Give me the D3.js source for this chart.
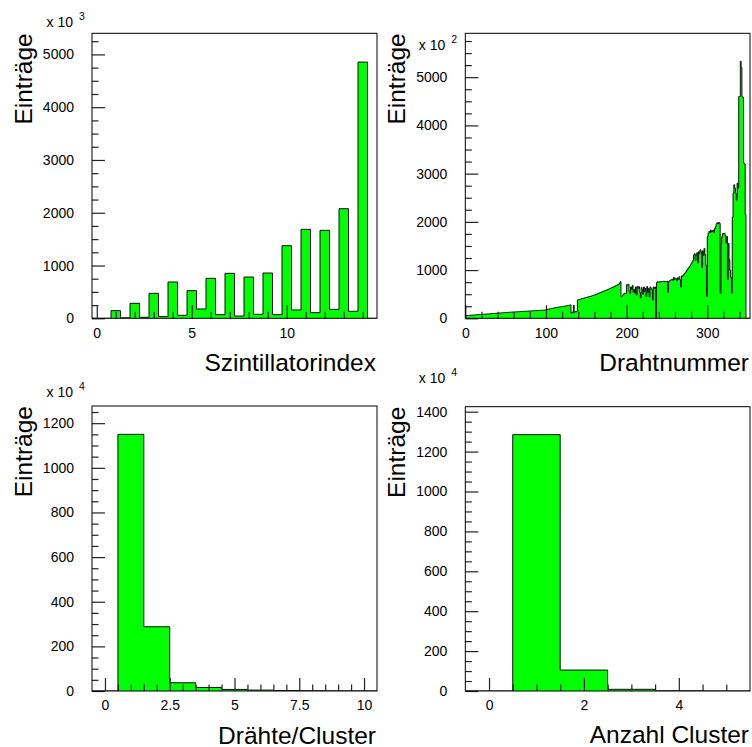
<!DOCTYPE html>
<html>
<head>
<meta charset="utf-8">
<script src="https://cdn.jsdelivr.net/npm/d3@7"></script>
<style>
  body { margin: 0; background: #fff; }
  svg { font-family: "Liberation Sans", Arial, Helvetica, sans-serif; }
</style>
</head>
<body>
<svg id="chart" width="752" height="747"></svg>
<script>
// --- data (bin contents) ---

// Szintillatorindex, bins of 0.5 from -0.25 to 14.75, units of 10^3
// bin order is 0, 0.5, 1, 1.5 ... so the tall bars sit on whole numbers
var szintRange = [-0.25, 14.75];
var szintValues = [0, 0, 145, 10, 284, 19, 473, 32, 688, 57, 524, 177, 757, 69, 852, 44,
                   782, 76, 858, 69, 1376, 158, 1685, 107, 1667, 170, 2077, 133, 4855, 0];
var szintXTicks = [0, 5, 10];
var szintYTicks = [0, 1000, 2000, 3000, 4000, 5000];

// Drahtnummer, bins of 1 from 0 to 353, units of 10^2
var drahtRange = [0, 353];
var drahtValues = [
  55, 56, 58, 59, 60, 62, 63, 64, 65, 67,
  68, 69, 70, 72, 73, 74, 76, 77, 78, 80,
  81, 82, 83, 85, 86, 87, 89, 90, 91, 92,
  94, 95, 96, 98, 99, 100, 102, 103, 104, 105,
  107, 108, 109, 111, 112, 113, 115, 116, 117, 118,
  120, 121, 122, 124, 125, 126, 127, 128, 129, 130,
  131, 132, 133, 134, 135, 136, 138, 139, 140, 141,
  142, 143, 144, 145, 146, 147, 148, 149, 150, 151,
  152, 153, 154, 155, 156, 157, 158, 159, 160, 161,
  162, 163, 164, 165, 166, 167, 168, 169, 170, 172,
  175, 180, 186, 190, 194, 198, 200, 204, 208, 212,
  216, 218, 222, 226, 229, 232, 234, 236, 239, 242,
  245, 248, 250, 253, 256, 260, 263, 266, 270, 272,
  277, 105, 130, 115, 270, 125, 140, 135, 140, 380,
  385, 390, 395, 400, 405, 410, 415, 420, 425, 430,
  435, 440, 445, 449, 452, 456, 462, 468, 474, 480,
  484, 490, 497, 503, 510, 518, 525, 532, 540, 548,
  553, 560, 568, 575, 582, 588, 595, 602, 610, 618,
  625, 632, 640, 648, 655, 663, 672, 680, 690, 700,
  710, 730, 760, 450, 460, 480, 500, 520, 515, 519,
  700, 690, 705, 560, 520, 650, 600, 680, 540, 600,
  520, 650, 480, 660, 620, 655, 540, 420, 640, 600,
  500, 650, 560, 620, 450, 660, 540, 620, 440, 650,
  620, 600, 380, 650, 620, 650, 10, 740, 760, 750,
  750, 760, 755, 760, 765, 760, 770, 755, 765, 760,
  770, 540, 760, 780, 790, 800, 810, 790, 850, 800,
  830, 820, 780, 840, 810, 860, 800, 650, 880, 870,
  900, 920, 940, 960, 990, 1010, 1040, 1060, 1080, 1110,
  1140, 1170, 1200, 1310, 1340, 1200, 1320, 1360, 1150, 1380,
  1340, 1420, 1380, 1050, 1400, 1300, 1450, 1320, 1100, 450,
  1700, 1760, 1800, 1780, 1830, 1790, 1810, 1830, 1780, 1860,
  1900, 1960, 1980, 1960, 1990, 1970, 520, 1550, 1700, 1760,
  1750, 1760, 1720, 1560, 1700, 800, 1550, 1210, 1000, 850,
  520, 2100, 2600, 2770, 2700, 2590, 2450, 2800, 2700, 4600,
  4600, 5330, 5200, 4600, 4580, 3220, 3200, 2150, 0, 0,
  0, 0, 0];
var drahtXTicks = [0, 100, 200, 300];
var drahtYTicks = [0, 1000, 2000, 3000, 4000, 5000];

// Drähte/Cluster, bins of 1 from -0.5 to 10.5, units of 10^4
var clSizeRange = [-0.5, 10.5];
var clSizeValues = [0, 1150, 288, 37, 16, 7, 4, 2, 1, 0.5, 0.3];
var clSizeXTicks = [0, 2.5, 5, 7.5, 10];
var clSizeYTicks = [0, 200, 400, 600, 800, 1000, 1200];

// Anzahl Cluster, bins of 1 from -0.5 to 5.5, units of 10^4
var clCountRange = [-0.5, 5.5];
var clCountValues = [0, 1285, 105, 8.5, 1, 0.3];
var clCountXTicks = [0, 2, 4];
var clCountYTicks = [0, 200, 400, 600, 800, 1000, 1200, 1400];

var yTitle = "Einträge";

// --- panels (layout + which arrays to use) ---
var panels = [
  { left: 92, top: 33.3, width: 285, height: 285,
    xDomain: szintRange, yMax: 5400, values: szintValues,
    xTicks: szintXTicks, xMinor: 1, yTicks: szintYTicks, yMinor: 250,
    xTitle: "Szintillatorindex", exponent: "3", expDx: -45.5, expDy: -6.6 },
  { left: 465.3, top: 33.3, width: 284.7, height: 285,
    xDomain: drahtRange, yMax: 5910, values: drahtValues,
    xTicks: drahtXTicks, xMinor: 20, yTicks: drahtYTicks, yMinor: 250,
    xTitle: "Drahtnummer", exponent: "2", expDx: -46.5, expDy: 16.7 },
  { left: 92, top: 406, width: 285, height: 285,
    xDomain: clSizeRange, yMax: 1277, values: clSizeValues,
    xTicks: clSizeXTicks, xMinor: 0.5, yTicks: clSizeYTicks, yMinor: 50,
    xTitle: "Drähte/Cluster", exponent: "4", expDx: -45.5, expDy: -9.3 },
  { left: 465.3, top: 406.7, width: 284.7, height: 284.3,
    xDomain: clCountRange, yMax: 1425, values: clCountValues,
    xTicks: clCountXTicks, xMinor: 0.5, yTicks: clCountYTicks, yMinor: 50,
    xTitle: "Anzahl Cluster", exponent: "4", expDx: -46.5, expDy: -24 }
];

var svg = d3.select("#chart");

panels.forEach(function (p, idx) { drawPanel(svg, p, idx); });

function drawPanel(svg, p, idx) {
  var g = svg.append("g")
    .attr("transform", "translate(" + p.left + "," + p.top + ")");

  var x = d3.scaleLinear().domain(p.xDomain).range([0, p.width]);
  var y = d3.scaleLinear().domain([0, p.yMax]).range([p.height, 0]);

  // step contour of the histogram
  var n = p.values.length;
  var bw = (p.xDomain[1] - p.xDomain[0]) / n;
  var pts = [[p.xDomain[0], 0]];
  p.values.forEach(function (v, i) {
    var lo = p.xDomain[0] + i * bw;
    pts.push([lo, v]);
    pts.push([lo + bw, v]);
  });
  pts.push([p.xDomain[1], 0]);

  g.append("clipPath").attr("id", "clip" + idx)
    .append("rect").attr("width", p.width).attr("height", p.height);

  g.append("path")
    .datum(pts)
    .attr("clip-path", "url(#clip" + idx + ")")
    .attr("d", d3.line().x(function (d) { return x(d[0]); }).y(function (d) { return y(d[1]); }))
    .style("fill", "#00ff00")
    .style("stroke", "#111")
    .style("stroke-width", 1);

  // minor ticks (inside the frame)
  var xMin = d3.range(Math.ceil(p.xDomain[0] / p.xMinor) * p.xMinor, p.xDomain[1] - 1e-9, p.xMinor)
    .filter(function (t) { return t > p.xDomain[0] + 1e-9 && p.xTicks.indexOf(t) < 0; });
  var yMin = d3.range(p.yMinor, p.yMax, p.yMinor)
    .filter(function (t) { return p.yTicks.indexOf(t) < 0; });

  g.append("g")
    .attr("transform", "translate(0," + p.height + ")")
    .call(d3.axisBottom(x).tickValues(xMin).tickSize(-6.5).tickFormat(""))
    .call(tidy);
  g.append("g")
    .call(d3.axisLeft(y).tickValues(yMin).tickSize(-6.5).tickFormat(""))
    .call(tidy);

  // major ticks with labels
  g.append("g")
    .attr("transform", "translate(0," + p.height + ")")
    .call(d3.axisBottom(x).tickValues(p.xTicks).tickSize(-13).tickPadding(9.5)
      .tickFormat(function (d) { return String(d); }))
    .call(tidy);
  g.append("g")
    .call(d3.axisLeft(y).tickValues(p.yTicks).tickSize(-13).tickPadding(18)
      .tickFormat(function (d) { return String(d); }))
    .call(tidy);

  // frame
  g.append("rect")
    .attr("width", p.width).attr("height", p.height)
    .style("fill", "none").style("stroke", "#000").style("stroke-width", 1);

  // axis titles
  g.append("text")
    .attr("x", p.width - 1).attr("y", p.height + 52.5)
    .attr("text-anchor", "end")
    .style("font-size", "24.5px")
    .text(p.xTitle);

  g.append("text")
    .attr("transform", "translate(-60.5,0) rotate(-90)")
    .attr("text-anchor", "end")
    .style("font-size", "24.5px")
    .text(yTitle);

  // "x 10^n" factor
  var f = g.append("text")
    .attr("x", p.expDx).attr("y", p.expDy)
    .style("font-size", "14px");
  f.append("tspan").text("x 10");
  f.append("tspan").attr("dx", 6).attr("dy", -6.5).style("font-size", "10.5px").text(p.exponent);
}

function tidy(sel) {
  sel.select(".domain").remove();
  sel.selectAll(".tick line").style("stroke", "#222").style("stroke-width", 1.2);
  sel.selectAll(".tick text")
    .style("font-size", "14px")
    .style("fill", "#000")
    .style("font-family", "\"Liberation Sans\", Arial, Helvetica, sans-serif");
}
</script>
</body>
</html>
